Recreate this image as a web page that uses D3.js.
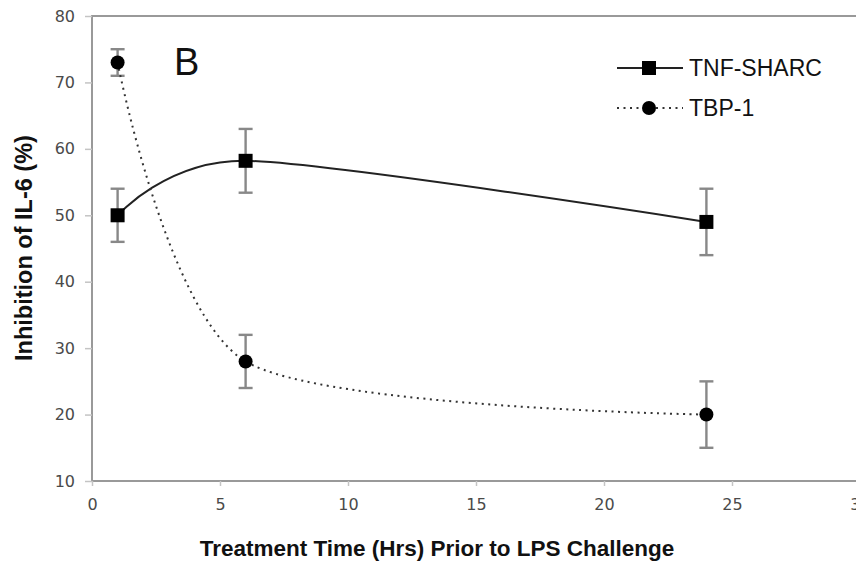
<!DOCTYPE html>
<html>
<head>
<meta charset="utf-8">
<script src="https://cdn.jsdelivr.net/npm/d3@7"></script>
<style>
  html, body { margin: 0; padding: 0; background: #fff; }
  svg { display: block; font-family: "Liberation Sans", Arial, Helvetica, sans-serif; }
</style>
</head>
<body>
<svg id="chart" width="856" height="564"></svg>
<script>
// Treatment times (hours before LPS challenge)
const hours = [1, 6, 24];

// Inhibition of IL-6 (%) with ± error
const tnfSharc = [50, 58.2, 49];
const tnfSharcErr = [4, 4.8, 5];
const tbp1 = [73, 28, 20];
const tbp1Err = [2, 4, 5];

const xTicks = [0, 5, 10, 15, 20, 25, 30];
const yTicks = [10, 20, 30, 40, 50, 60, 70, 80];

const svg = d3.select("#chart");
const plotLeft = 92, plotTop = 16, plotRight = 860, plotBottom = 481;

const x = d3.scaleLinear().domain([0, 30]).range([plotLeft, plotRight]);
const y = d3.scaleLinear().domain([10, 80]).range([plotBottom, plotTop]);

const axisColor = "#999";
const tickTextColor = "#4a4a4a";

// plot frame
svg.append("rect")
  .attr("x", plotLeft).attr("y", plotTop)
  .attr("width", plotRight - plotLeft).attr("height", plotBottom - plotTop)
  .attr("fill", "none").attr("stroke", axisColor).attr("stroke-width", 2);

// axes
const xAxis = svg.append("g").attr("transform", `translate(0,${plotBottom})`)
  .call(d3.axisBottom(x).tickValues(xTicks).tickSize(5).tickPadding(13));
const yAxis = svg.append("g").attr("transform", `translate(${plotLeft},0)`)
  .call(d3.axisLeft(y).tickValues(yTicks).tickSize(7).tickPadding(10));
[xAxis, yAxis].forEach(g => {
  g.select(".domain").remove();
  g.selectAll(".tick line").attr("stroke", "#c4c4c4").attr("stroke-width", 1.5);
  g.selectAll(".tick text")
    .attr("fill", tickTextColor)
    .style("font-size", "16px")
    .style("font-family", "'DejaVu Sans', Verdana, sans-serif");
});

// panel letter
svg.append("text").attr("x", 174).attr("y", 75)
  .style("font-size", "38px").attr("fill", "#111").text("B");

// axis titles
svg.append("text")
  .attr("x", 437).attr("y", 556).attr("text-anchor", "middle")
  .style("font-size", "22.5px").style("font-weight", "bold").attr("fill", "#111")
  .text("Treatment Time (Hrs) Prior to LPS Challenge");
svg.append("text")
  .attr("transform", "translate(32,248) rotate(-90)").attr("text-anchor", "middle")
  .style("font-size", "23.5px").style("font-weight", "bold").attr("fill", "#111")
  .text("Inhibition of IL-6 (%)");

const smooth = d3.line()
  .x(d => x(d[0])).y(d => y(d[1]))
  .curve(d3.curveCardinal.tension(0.2));

const series = [
  { name: "TNF-SHARC", vals: tnfSharc, err: tnfSharcErr, marker: "square", dash: null, stroke: "#222" },
  { name: "TBP-1", vals: tbp1, err: tbp1Err, marker: "circle", dash: "2,4.5", stroke: "#333" }
];

function drawMarker(type, cx, cy) {
  if (type === "square") {
    svg.append("rect").attr("x", cx - 7).attr("y", cy - 7)
      .attr("width", 14).attr("height", 14).attr("fill", "#000");
  } else {
    svg.append("circle").attr("cx", cx).attr("cy", cy).attr("r", 7).attr("fill", "#000");
  }
}

series.forEach(s => {
  const pts = hours.map((h, i) => [h, s.vals[i], s.err[i]]);

  // error bars
  const eb = svg.append("g").attr("stroke", "#888").attr("stroke-width", 2.4);
  pts.forEach(p => {
    eb.append("line").attr("x1", x(p[0])).attr("x2", x(p[0]))
      .attr("y1", y(p[1] - p[2])).attr("y2", y(p[1] + p[2]));
    [p[1] - p[2], p[1] + p[2]].forEach(v => {
      eb.append("line").attr("x1", x(p[0]) - 7).attr("x2", x(p[0]) + 7)
        .attr("y1", y(v)).attr("y2", y(v));
    });
  });

  // smoothed curve
  svg.append("path").datum(pts).attr("d", smooth)
    .attr("fill", "none").attr("stroke", s.stroke)
    .attr("stroke-width", 2).attr("stroke-dasharray", s.dash);

  // markers
  pts.forEach(p => drawMarker(s.marker, x(p[0]), y(p[1])));
});

// legend
series.forEach((s, i) => {
  const ly = 68 + i * 40;
  svg.append("line").attr("x1", 617).attr("x2", 683).attr("y1", ly).attr("y2", ly)
    .attr("stroke", s.stroke).attr("stroke-width", 2).attr("stroke-dasharray", s.dash);
  drawMarker(s.marker, 649, ly);
  svg.append("text").attr("x", 689).attr("y", ly + 8)
    .style("font-size", "23px").attr("fill", "#111").text(s.name);
});
</script>
</body>
</html>
